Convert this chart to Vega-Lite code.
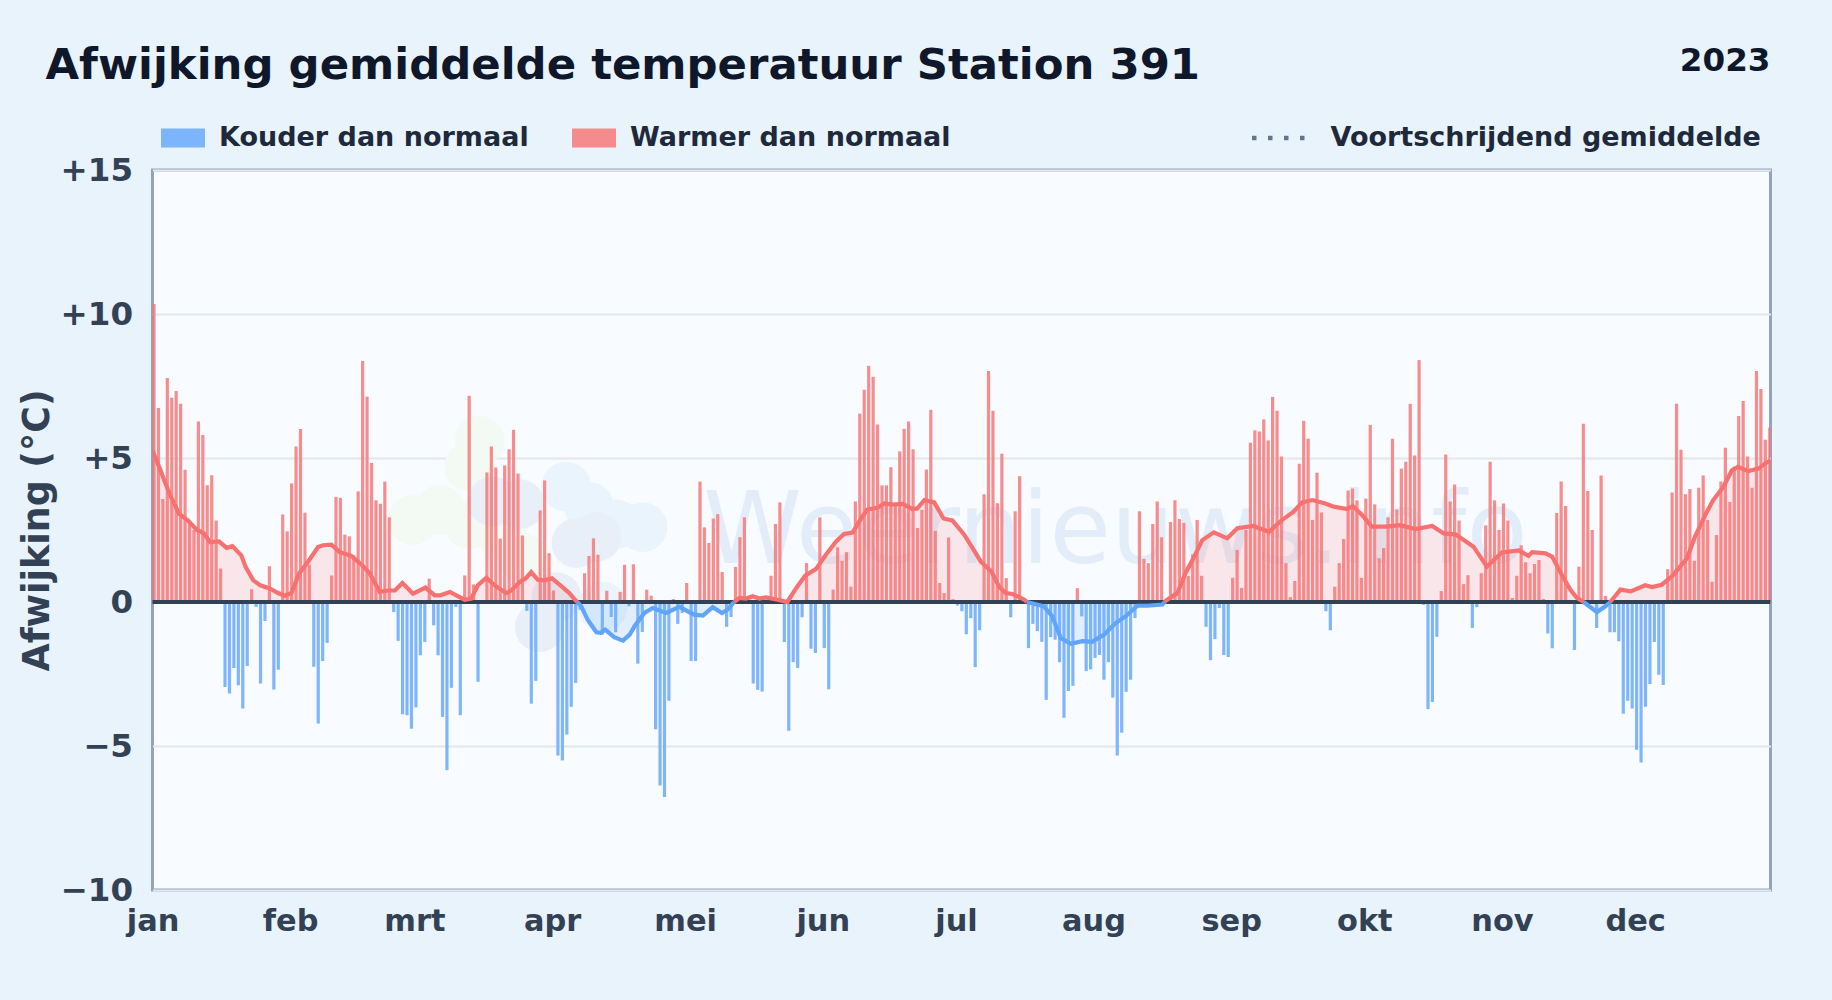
{"$schema":"https://vega.github.io/schema/vega-lite/v6.json","autosize":{"type":"none"},"width":1618,"height":720,"padding":{"left":152.5,"top":170,"right":61.5,"bottom":110},"background":"#e8f3fc","title":{"text":"Afwijking gemiddelde temperatuur Station 391","anchor":"start","frame":"group","dx":-107,"offset":-44,"font":"DejaVu Sans","fontSize":43.4,"fontWeight":"bold","color":"#0f172a"},"config":{"view":{"fill":"#f8fbff","stroke":"#94a3b8","strokeWidth":3},"font":"DejaVu Sans"},"datasets":{"dagen":[{"dag":0,"afw":10.35},{"dag":1,"afw":6.74},{"dag":2,"afw":3.58},{"dag":3,"afw":7.78},{"dag":4,"afw":7.09},{"dag":5,"afw":7.33},{"dag":6,"afw":6.88},{"dag":7,"afw":4.59},{"dag":8,"afw":2.7},{"dag":9,"afw":2.5},{"dag":10,"afw":6.27},{"dag":11,"afw":5.8},{"dag":12,"afw":4.05},{"dag":13,"afw":4.4},{"dag":14,"afw":2.83},{"dag":15,"afw":1.16},{"dag":16,"afw":-2.95},{"dag":17,"afw":-3.18},{"dag":18,"afw":-2.29},{"dag":19,"afw":-2.89},{"dag":20,"afw":-3.7},{"dag":21,"afw":-2.22},{"dag":22,"afw":0.44},{"dag":23,"afw":-0.17},{"dag":24,"afw":-2.83},{"dag":25,"afw":-0.66},{"dag":26,"afw":1.24},{"dag":27,"afw":-3.04},{"dag":28,"afw":-2.35},{"dag":29,"afw":3.04},{"dag":30,"afw":2.45},{"dag":31,"afw":4.12},{"dag":32,"afw":5.4},{"dag":33,"afw":6.01},{"dag":34,"afw":3.1},{"dag":35,"afw":1.3},{"dag":36,"afw":-2.25},{"dag":37,"afw":-4.22},{"dag":38,"afw":-2.05},{"dag":39,"afw":-1.42},{"dag":40,"afw":0.92},{"dag":41,"afw":3.65},{"dag":42,"afw":3.62},{"dag":43,"afw":2.34},{"dag":44,"afw":2.28},{"dag":45,"afw":1.62},{"dag":46,"afw":3.84},{"dag":47,"afw":8.37},{"dag":48,"afw":7.13},{"dag":49,"afw":4.83},{"dag":50,"afw":3.53},{"dag":51,"afw":3.41},{"dag":52,"afw":4.18},{"dag":53,"afw":2.94},{"dag":54,"afw":-0.35},{"dag":55,"afw":-1.35},{"dag":56,"afw":-3.9},{"dag":57,"afw":-3.93},{"dag":58,"afw":-4.4},{"dag":59,"afw":-3.66},{"dag":60,"afw":-1.85},{"dag":61,"afw":-1.39},{"dag":62,"afw":0.81},{"dag":63,"afw":-0.81},{"dag":64,"afw":-1.85},{"dag":65,"afw":-3.99},{"dag":66,"afw":-5.84},{"dag":67,"afw":-2.98},{"dag":68,"afw":-0.17},{"dag":69,"afw":-3.93},{"dag":70,"afw":0.92},{"dag":71,"afw":7.16},{"dag":72,"afw":0.61},{"dag":73,"afw":-2.77},{"dag":74,"afw":0},{"dag":75,"afw":4.5},{"dag":76,"afw":5.4},{"dag":77,"afw":4.67},{"dag":78,"afw":2.2},{"dag":79,"afw":4.74},{"dag":80,"afw":5.3},{"dag":81,"afw":5.98},{"dag":82,"afw":4.46},{"dag":83,"afw":2.31},{"dag":84,"afw":-0.31},{"dag":85,"afw":-3.53},{"dag":86,"afw":-2.74},{"dag":87,"afw":3.18},{"dag":88,"afw":4.22},{"dag":89,"afw":1.69},{"dag":90,"afw":0.4},{"dag":91,"afw":-5.33},{"dag":92,"afw":-5.5},{"dag":93,"afw":-4.6},{"dag":94,"afw":-3.64},{"dag":95,"afw":-2.81},{"dag":96,"afw":-0.27},{"dag":97,"afw":1.0},{"dag":98,"afw":1.6},{"dag":99,"afw":2.21},{"dag":100,"afw":1.64},{"dag":101,"afw":-1.13},{"dag":102,"afw":0.39},{"dag":103,"afw":-0.52},{"dag":104,"afw":-1.05},{"dag":105,"afw":0.35},{"dag":106,"afw":1.29},{"dag":107,"afw":-0.15},{"dag":108,"afw":1.31},{"dag":109,"afw":-2.14},{"dag":110,"afw":-1.04},{"dag":111,"afw":0.43},{"dag":112,"afw":0.22},{"dag":113,"afw":-4.42},{"dag":114,"afw":-6.37},{"dag":115,"afw":-6.77},{"dag":116,"afw":-3.43},{"dag":117,"afw":0.1},{"dag":118,"afw":-0.76},{"dag":119,"afw":-0.38},{"dag":120,"afw":0.66},{"dag":121,"afw":-2.05},{"dag":122,"afw":-2.05},{"dag":123,"afw":4.18},{"dag":124,"afw":2.59},{"dag":125,"afw":2.05},{"dag":126,"afw":2.9},{"dag":127,"afw":3.05},{"dag":128,"afw":1.04},{"dag":129,"afw":-0.86},{"dag":130,"afw":-0.52},{"dag":131,"afw":1.22},{"dag":132,"afw":2.25},{"dag":133,"afw":2.94},{"dag":134,"afw":0.1},{"dag":135,"afw":-2.83},{"dag":136,"afw":-3.05},{"dag":137,"afw":-3.11},{"dag":138,"afw":0.05},{"dag":139,"afw":0.91},{"dag":140,"afw":2.71},{"dag":141,"afw":3.46},{"dag":142,"afw":-1.39},{"dag":143,"afw":-4.47},{"dag":144,"afw":-2.09},{"dag":145,"afw":-2.29},{"dag":146,"afw":-0.53},{"dag":147,"afw":1.35},{"dag":148,"afw":-1.62},{"dag":149,"afw":-1.77},{"dag":150,"afw":2.94},{"dag":151,"afw":-1.6},{"dag":152,"afw":-3.03},{"dag":153,"afw":0.43},{"dag":154,"afw":1.9},{"dag":155,"afw":1.43},{"dag":156,"afw":1.73},{"dag":157,"afw":0.53},{"dag":158,"afw":3.49},{"dag":159,"afw":6.54},{"dag":160,"afw":7.37},{"dag":161,"afw":8.2},{"dag":162,"afw":7.82},{"dag":163,"afw":6.16},{"dag":164,"afw":4.05},{"dag":165,"afw":4.05},{"dag":166,"afw":4.68},{"dag":167,"afw":3.4},{"dag":168,"afw":5.23},{"dag":169,"afw":6.01},{"dag":170,"afw":6.27},{"dag":171,"afw":5.3},{"dag":172,"afw":2.57},{"dag":173,"afw":3.2},{"dag":174,"afw":4.6},{"dag":175,"afw":6.67},{"dag":176,"afw":2.47},{"dag":177,"afw":0.66},{"dag":178,"afw":0.31},{"dag":179,"afw":2.24},{"dag":180,"afw":0.1},{"dag":181,"afw":-0.12},{"dag":182,"afw":-0.32},{"dag":183,"afw":-1.12},{"dag":184,"afw":-0.56},{"dag":185,"afw":-2.26},{"dag":186,"afw":-0.98},{"dag":187,"afw":3.74},{"dag":188,"afw":8.02},{"dag":189,"afw":6.64},{"dag":190,"afw":3.43},{"dag":191,"afw":5.15},{"dag":192,"afw":0.83},{"dag":193,"afw":-0.53},{"dag":194,"afw":3.15},{"dag":195,"afw":4.37},{"dag":196,"afw":0},{"dag":197,"afw":-1.6},{"dag":198,"afw":-0.76},{"dag":199,"afw":-1.01},{"dag":200,"afw":-1.38},{"dag":201,"afw":-3.4},{"dag":202,"afw":-1.22},{"dag":203,"afw":-1.31},{"dag":204,"afw":-2.09},{"dag":205,"afw":-4.02},{"dag":206,"afw":-3.09},{"dag":207,"afw":-2.91},{"dag":208,"afw":0.48},{"dag":209,"afw":-0.5},{"dag":210,"afw":-2.4},{"dag":211,"afw":-2.34},{"dag":212,"afw":-1.94},{"dag":213,"afw":-1.84},{"dag":214,"afw":-2.7},{"dag":215,"afw":-2.09},{"dag":216,"afw":-3.32},{"dag":217,"afw":-5.33},{"dag":218,"afw":-4.54},{"dag":219,"afw":-3.12},{"dag":220,"afw":-2.7},{"dag":221,"afw":-0.56},{"dag":222,"afw":3.15},{"dag":223,"afw":1.5},{"dag":224,"afw":1.35},{"dag":225,"afw":2.71},{"dag":226,"afw":3.49},{"dag":227,"afw":2.25},{"dag":228,"afw":0},{"dag":229,"afw":2.78},{"dag":230,"afw":3.53},{"dag":231,"afw":2.88},{"dag":232,"afw":2.75},{"dag":233,"afw":0.9},{"dag":234,"afw":1.65},{"dag":235,"afw":2.85},{"dag":236,"afw":0.91},{"dag":237,"afw":-0.86},{"dag":238,"afw":-2.02},{"dag":239,"afw":-1.29},{"dag":240,"afw":-0.21},{"dag":241,"afw":-1.84},{"dag":242,"afw":-1.91},{"dag":243,"afw":0.84},{"dag":244,"afw":1.81},{"dag":245,"afw":0.49},{"dag":246,"afw":2.5},{"dag":247,"afw":5.53},{"dag":248,"afw":5.96},{"dag":249,"afw":5.92},{"dag":250,"afw":6.34},{"dag":251,"afw":5.61},{"dag":252,"afw":7.12},{"dag":253,"afw":6.64},{"dag":254,"afw":5.05},{"dag":255,"afw":1.35},{"dag":256,"afw":0.17},{"dag":257,"afw":0.73},{"dag":258,"afw":4.8},{"dag":259,"afw":6.29},{"dag":260,"afw":5.67},{"dag":261,"afw":2.85},{"dag":262,"afw":4.49},{"dag":263,"afw":3.11},{"dag":264,"afw":-0.32},{"dag":265,"afw":-0.98},{"dag":266,"afw":0.53},{"dag":267,"afw":1.35},{"dag":268,"afw":2.19},{"dag":269,"afw":3.87},{"dag":270,"afw":3.94},{"dag":271,"afw":3.53},{"dag":272,"afw":0.84},{"dag":273,"afw":3.59},{"dag":274,"afw":6.15},{"dag":275,"afw":3.39},{"dag":276,"afw":1.52},{"dag":277,"afw":1.87},{"dag":278,"afw":2.94},{"dag":279,"afw":5.67},{"dag":280,"afw":3.21},{"dag":281,"afw":4.63},{"dag":282,"afw":4.87},{"dag":283,"afw":6.88},{"dag":284,"afw":5.09},{"dag":285,"afw":8.4},{"dag":286,"afw":-0.1},{"dag":287,"afw":-3.72},{"dag":288,"afw":-3.47},{"dag":289,"afw":-1.21},{"dag":290,"afw":0.38},{"dag":291,"afw":5.12},{"dag":292,"afw":3.49},{"dag":293,"afw":4.08},{"dag":294,"afw":2.83},{"dag":295,"afw":0.62},{"dag":296,"afw":0.93},{"dag":297,"afw":-0.9},{"dag":298,"afw":-0.18},{"dag":299,"afw":1.0},{"dag":300,"afw":2.66},{"dag":301,"afw":4.87},{"dag":302,"afw":3.53},{"dag":303,"afw":2.5},{"dag":304,"afw":3.42},{"dag":305,"afw":2.83},{"dag":306,"afw":0.14},{"dag":307,"afw":0.91},{"dag":308,"afw":1.97},{"dag":309,"afw":1.38},{"dag":310,"afw":1.0},{"dag":311,"afw":1.32},{"dag":312,"afw":1.46},{"dag":313,"afw":0.1},{"dag":314,"afw":-1.09},{"dag":315,"afw":-1.61},{"dag":316,"afw":3.09},{"dag":317,"afw":4.18},{"dag":318,"afw":3.33},{"dag":319,"afw":0},{"dag":320,"afw":-1.67},{"dag":321,"afw":1.22},{"dag":322,"afw":6.19},{"dag":323,"afw":3.85},{"dag":324,"afw":2.5},{"dag":325,"afw":-0.9},{"dag":326,"afw":4.39},{"dag":327,"afw":0.21},{"dag":328,"afw":-1.05},{"dag":329,"afw":-1.05},{"dag":330,"afw":-1.36},{"dag":331,"afw":-3.88},{"dag":332,"afw":-3.43},{"dag":333,"afw":-3.7},{"dag":334,"afw":-5.13},{"dag":335,"afw":-5.57},{"dag":336,"afw":-3.64},{"dag":337,"afw":-2.85},{"dag":338,"afw":-1.39},{"dag":339,"afw":-2.53},{"dag":340,"afw":-2.88},{"dag":341,"afw":1.14},{"dag":342,"afw":3.8},{"dag":343,"afw":6.88},{"dag":344,"afw":5.29},{"dag":345,"afw":3.74},{"dag":346,"afw":3.92},{"dag":347,"afw":1.43},{"dag":348,"afw":3.97},{"dag":349,"afw":4.39},{"dag":350,"afw":2.85},{"dag":351,"afw":0.7},{"dag":352,"afw":2.33},{"dag":353,"afw":4.18},{"dag":354,"afw":5.36},{"dag":355,"afw":3.47},{"dag":356,"afw":4.7},{"dag":357,"afw":6.46},{"dag":358,"afw":6.98},{"dag":359,"afw":5.05},{"dag":360,"afw":3.97},{"dag":361,"afw":8.02},{"dag":362,"afw":7.4},{"dag":363,"afw":5.63},{"dag":364,"afw":6.05}],"warm":[{"dag":0,"gem":5.26,"p":1},{"dag":1.7,"gem":4.62,"p":1},{"dag":2.7,"gem":4.2,"p":1},{"dag":4,"gem":3.7,"p":1},{"dag":6,"gem":3.06,"p":1},{"dag":8,"gem":2.83,"p":1},{"dag":10,"gem":2.5,"p":1},{"dag":11.5,"gem":2.39,"p":1},{"dag":13,"gem":2.08,"p":1},{"dag":15,"gem":2.1,"p":1},{"dag":16.7,"gem":1.88,"p":1},{"dag":18,"gem":1.94,"p":1},{"dag":20,"gem":1.62,"p":1},{"dag":21,"gem":1.21,"p":1},{"dag":22.7,"gem":0.75,"p":1},{"dag":24.3,"gem":0.58,"p":1},{"dag":26.5,"gem":0.46,"p":1},{"dag":28.3,"gem":0.31,"p":1},{"dag":29.8,"gem":0.22,"p":1},{"dag":31.3,"gem":0.31,"p":1},{"dag":33,"gem":0.98,"p":1},{"dag":35,"gem":1.39,"p":1},{"dag":37.3,"gem":1.91,"p":1},{"dag":38.4,"gem":1.97,"p":1},{"dag":40.3,"gem":1.99,"p":1},{"dag":42.2,"gem":1.73,"p":1},{"dag":44.8,"gem":1.6,"p":1},{"dag":47.4,"gem":1.25,"p":1},{"dag":49,"gem":0.98,"p":1},{"dag":51.2,"gem":0.35,"p":1},{"dag":53,"gem":0.4,"p":1},{"dag":54.6,"gem":0.4,"p":1},{"dag":56.3,"gem":0.66,"p":1},{"dag":58.7,"gem":0.29,"p":1},{"dag":61.5,"gem":0.5,"p":1},{"dag":63.6,"gem":0.23,"p":1},{"dag":64.7,"gem":0.23,"p":1},{"dag":67,"gem":0.35,"p":1},{"dag":70.3,"gem":0.08,"p":1},{"dag":71.8,"gem":0.12,"p":1},{"dag":73.3,"gem":0.58,"p":1},{"dag":75.2,"gem":0.84,"p":1},{"dag":77.4,"gem":0.54,"p":1},{"dag":79.7,"gem":0.31,"p":1},{"dag":80.8,"gem":0.4,"p":1},{"dag":82.7,"gem":0.69,"p":1},{"dag":84.2,"gem":0.84,"p":1},{"dag":85.3,"gem":1.04,"p":1},{"dag":86.8,"gem":0.77,"p":1},{"dag":88.3,"gem":0.75,"p":1},{"dag":90,"gem":0.82,"p":1},{"dag":91.7,"gem":0.6,"p":1},{"dag":93.9,"gem":0.31,"p":1},{"dag":95.3,"gem":0.06,"p":1},{"dag":95.7,"gem":0,"p":1},{"dag":131,"gem":0,"p":2},{"dag":132.2,"gem":0.14,"p":2},{"dag":133.7,"gem":0.12,"p":2},{"dag":135.2,"gem":0.2,"p":2},{"dag":136.7,"gem":0.12,"p":2},{"dag":138.2,"gem":0.16,"p":2},{"dag":140.8,"gem":0.08,"p":2},{"dag":143,"gem":0,"p":2},{"dag":145,"gem":0.48,"p":2},{"dag":147,"gem":0.91,"p":2},{"dag":149.5,"gem":1.15,"p":2},{"dag":151.7,"gem":1.64,"p":2},{"dag":154,"gem":2.1,"p":2},{"dag":155.8,"gem":2.36,"p":2},{"dag":157.7,"gem":2.41,"p":2},{"dag":159.2,"gem":2.79,"p":2},{"dag":161,"gem":3.21,"p":2},{"dag":163.3,"gem":3.27,"p":2},{"dag":164.9,"gem":3.42,"p":2},{"dag":166.7,"gem":3.38,"p":2},{"dag":169,"gem":3.41,"p":2},{"dag":171.2,"gem":3.23,"p":2},{"dag":172.3,"gem":3.25,"p":2},{"dag":173.9,"gem":3.54,"p":2},{"dag":176.1,"gem":3.46,"p":2},{"dag":178.2,"gem":2.9,"p":2},{"dag":180.2,"gem":2.83,"p":2},{"dag":182.9,"gem":2.33,"p":2},{"dag":185,"gem":1.81,"p":2},{"dag":186.6,"gem":1.4,"p":2},{"dag":189,"gem":1.06,"p":2},{"dag":190.7,"gem":0.54,"p":2},{"dag":192.2,"gem":0.31,"p":2},{"dag":193.7,"gem":0.28,"p":2},{"dag":196.4,"gem":0.08,"p":2},{"dag":197,"gem":0,"p":2},{"dag":228,"gem":0,"p":3},{"dag":228.6,"gem":0.08,"p":3},{"dag":230.9,"gem":0.31,"p":3},{"dag":232.7,"gem":1.0,"p":3},{"dag":234.7,"gem":1.58,"p":3},{"dag":236.5,"gem":2.15,"p":3},{"dag":239.1,"gem":2.42,"p":3},{"dag":242.1,"gem":2.21,"p":3},{"dag":244.4,"gem":2.56,"p":3},{"dag":248,"gem":2.64,"p":3},{"dag":251.5,"gem":2.44,"p":3},{"dag":254.5,"gem":2.85,"p":3},{"dag":257,"gem":3.13,"p":3},{"dag":259,"gem":3.46,"p":3},{"dag":261.3,"gem":3.54,"p":3},{"dag":264.2,"gem":3.42,"p":3},{"dag":266.1,"gem":3.31,"p":3},{"dag":269.1,"gem":3.23,"p":3},{"dag":270.4,"gem":3.33,"p":3},{"dag":272.5,"gem":3.02,"p":3},{"dag":274.7,"gem":2.62,"p":3},{"dag":277.7,"gem":2.62,"p":3},{"dag":281.1,"gem":2.67,"p":3},{"dag":284.5,"gem":2.53,"p":3},{"dag":288.3,"gem":2.64,"p":3},{"dag":290.9,"gem":2.38,"p":3},{"dag":293.5,"gem":2.35,"p":3},{"dag":295.4,"gem":2.15,"p":3},{"dag":297.6,"gem":1.92,"p":3},{"dag":300.6,"gem":1.23,"p":3},{"dag":304,"gem":1.72,"p":3},{"dag":307.8,"gem":1.79,"p":3},{"dag":310,"gem":1.6,"p":3},{"dag":310.8,"gem":1.73,"p":3},{"dag":313.8,"gem":1.69,"p":3},{"dag":315.3,"gem":1.58,"p":3},{"dag":317.5,"gem":0.94,"p":3},{"dag":319.4,"gem":0.43,"p":3},{"dag":320.9,"gem":0.14,"p":3},{"dag":322.4,"gem":0,"p":3},{"dag":328.4,"gem":0,"p":4},{"dag":330.7,"gem":0.43,"p":4},{"dag":333,"gem":0.37,"p":4},{"dag":336.3,"gem":0.58,"p":4},{"dag":337.8,"gem":0.52,"p":4},{"dag":340,"gem":0.6,"p":4},{"dag":342.3,"gem":0.89,"p":4},{"dag":345.7,"gem":1.52,"p":4},{"dag":347.5,"gem":2.27,"p":4},{"dag":349.8,"gem":3.02,"p":4},{"dag":351.6,"gem":3.54,"p":4},{"dag":353.9,"gem":4.0,"p":4},{"dag":355.8,"gem":4.57,"p":4},{"dag":357.2,"gem":4.69,"p":4},{"dag":359.5,"gem":4.55,"p":4},{"dag":361.8,"gem":4.63,"p":4},{"dag":363.6,"gem":4.84,"p":4},{"dag":364.5,"gem":4.9,"p":4}],"koud":[{"dag":95.7,"gem":0,"p":1},{"dag":96.6,"gem":-0.15,"p":1},{"dag":98,"gem":-0.61,"p":1},{"dag":100,"gem":-1.05,"p":1},{"dag":101,"gem":-1.07,"p":1},{"dag":102,"gem":-0.96,"p":1},{"dag":104,"gem":-1.22,"p":1},{"dag":106,"gem":-1.34,"p":1},{"dag":107.5,"gem":-1.13,"p":1},{"dag":108.6,"gem":-0.84,"p":1},{"dag":110.8,"gem":-0.38,"p":1},{"dag":112.7,"gem":-0.21,"p":1},{"dag":115.7,"gem":-0.38,"p":1},{"dag":118.7,"gem":-0.17,"p":1},{"dag":122,"gem":-0.44,"p":1},{"dag":124,"gem":-0.47,"p":1},{"dag":126.2,"gem":-0.18,"p":1},{"dag":128.3,"gem":-0.38,"p":1},{"dag":129.6,"gem":-0.26,"p":1},{"dag":131,"gem":0,"p":1},{"dag":197,"gem":0,"p":2},{"dag":200.8,"gem":-0.15,"p":2},{"dag":202.7,"gem":-0.5,"p":2},{"dag":204.6,"gem":-1.25,"p":2},{"dag":206.9,"gem":-1.45,"p":2},{"dag":209.5,"gem":-1.36,"p":2},{"dag":211.7,"gem":-1.38,"p":2},{"dag":214.4,"gem":-1.13,"p":2},{"dag":217,"gem":-0.73,"p":2},{"dag":219.2,"gem":-0.5,"p":2},{"dag":221.9,"gem":-0.13,"p":2},{"dag":224.1,"gem":-0.13,"p":2},{"dag":227.5,"gem":-0.09,"p":2},{"dag":228,"gem":0,"p":2},{"dag":322.4,"gem":0,"p":3},{"dag":325.4,"gem":-0.35,"p":3},{"dag":327.3,"gem":-0.15,"p":3},{"dag":328.4,"gem":0,"p":3}],"logoGroen":[{"dag":73.7,"v":5.6},{"dag":71.4,"v":4.7},{"dag":58.6,"v":2.85},{"dag":64.7,"v":3.2},{"dag":71.4,"v":2.7},{"dag":83.4,"v":1.56},{"dag":78.9,"v":2.26}],"logoBlauw":[{"dag":93.2,"v":4.0},{"dag":98.4,"v":3.3},{"dag":110.4,"v":2.6},{"dag":104.4,"v":2.7},{"dag":101.4,"v":-0.17}],"logoLei":[{"dag":76.6,"v":3.5},{"dag":82.7,"v":3.4},{"dag":95.5,"v":2.05},{"dag":100,"v":2.26},{"dag":87.2,"v":-0.87},{"dag":91,"v":0.17}]},"encoding":{"x":{"field":"dag","type":"quantitative","scale":{"domain":[0,364.5],"nice":false,"zero":false,"padding":0},"axis":{"title":null,"values":[0,31,59,90,120,151,181,212,243,273,304,334],"labelExpr":"['jan','feb','mrt','apr','mei','jun','jul','aug','sep','okt','nov','dec'][indexof([0,31,59,90,120,151,181,212,243,273,304,334],datum.value)]","labelFont":"DejaVu Sans","labelFontSize":30.4,"labelFontWeight":"bold","labelColor":"#334155","labelPadding":16,"labelFlush":false,"labelOverlap":false,"ticks":false,"domain":false,"grid":false}},"y":{"type":"quantitative","scale":{"domain":[-10,15],"nice":false},"axis":{"title":"Afwijking (°C)","values":[-10,-5,0,5,10,15],"labelExpr":"datum.value>0?'+'+datum.value:(datum.value<0?'−'+abs(datum.value):'0')","labelFont":"DejaVu Sans","labelFontSize":32.5,"labelFontWeight":"bold","labelColor":"#334155","labelPadding":20,"titleFont":"DejaVu Sans","titleFontSize":36.4,"titleFontWeight":"bold","titleColor":"#334155","titlePadding":4,"ticks":false,"domain":false,"grid":true,"gridColor":"#e2e8f0","gridWidth":2}}},"layer":[{"data":{"name":"logoGroen"},"mark":{"type":"point","filled":true,"size":2463,"color":"#f3f9f3","opacity":1},"encoding":{"y":{"field":"v"}}},{"data":{"name":"logoBlauw"},"mark":{"type":"point","filled":true,"size":2463,"color":"#e9f4fd","opacity":1},"encoding":{"y":{"field":"v"}}},{"data":{"name":"logoLei"},"mark":{"type":"point","filled":true,"size":2463,"color":"#e8eff8","opacity":1},"encoding":{"y":{"field":"v"}}},{"data":{"values":[{"merk":"Weernieuws.info","dag":124,"v":1.35}]},"mark":{"type":"text","align":"left","baseline":"alphabetic","font":"DejaVu Sans","fontSize":100,"color":"#e3edf9"},"encoding":{"y":{"field":"v"},"text":{"field":"merk"}}},{"data":{"name":"warm"},"mark":{"type":"area","color":"#f87171","opacity":0.15},"encoding":{"y":{"field":"gem"},"y2":{"datum":0},"detail":{"field":"p"}}},{"data":{"name":"koud"},"mark":{"type":"area","color":"#60a5fa","opacity":0.15},"encoding":{"y":{"field":"gem"},"y2":{"datum":0},"detail":{"field":"p"}}},{"data":{"name":"dagen"},"transform":[{"calculate":"datum.afw<0?'Kouder dan normaal':'Warmer dan normaal'","as":"soort"}],"mark":{"type":"bar","size":3.2,"opacity":0.8,"clip":true,"xOffset":1.5},"encoding":{"y":{"field":"afw"},"color":{"field":"soort","type":"nominal","scale":{"domain":["Kouder dan normaal","Warmer dan normaal"],"range":["#60a5fa","#f87171"]},"legend":{"title":null,"orient":"none","direction":"horizontal","legendX":8.5,"legendY":-54,"symbolType":"M-1,-0.43H1V0.43H-1Z","symbolSize":1936,"symbolOpacity":0.8,"symbolStrokeWidth":0,"labelFont":"DejaVu Sans","labelFontSize":27,"labelFontWeight":"bold","labelColor":"#1e293b","labelOffset":14,"columnPadding":43,"labelLimit":500}}}},{"data":{"values":[{"dag":0,"eind":364.5,"nul":0}]},"mark":{"type":"rule","color":"#334155","strokeWidth":4},"encoding":{"x2":{"field":"eind"},"y":{"field":"nul"}}},{"data":{"name":"warm"},"mark":{"type":"line","color":"#f87171","strokeWidth":4.2,"clip":true},"encoding":{"y":{"field":"gem"},"detail":{"field":"p"}}},{"data":{"name":"koud"},"mark":{"type":"line","color":"#60a5fa","strokeWidth":4.2},"encoding":{"y":{"field":"gem"},"detail":{"field":"p"}}},{"data":{"values":[{"dag":0,"gem":0,"naam":"Voortschrijdend gemiddelde"}]},"mark":{"type":"line"},"encoding":{"y":{"field":"gem"},"strokeDash":{"field":"naam","type":"nominal","scale":{"range":[[4.5,11.5]]},"legend":{"title":null,"orient":"none","legendX":1097,"legendY":-62,"symbolType":"stroke","symbolSize":3025,"symbolStrokeColor":"#64748b","symbolStrokeWidth":4.5,"labelFont":"DejaVu Sans","labelFontSize":27,"labelFontWeight":"bold","labelColor":"#1e293b","labelOffset":21,"labelLimit":500}}}},{"data":{"values":[{"jaar":"2023","dag":364.5,"v":18.8}]},"mark":{"type":"text","align":"right","baseline":"middle","font":"DejaVu Sans","fontSize":32.6,"fontWeight":"bold","color":"#0f172a"},"encoding":{"y":{"field":"v"},"text":{"field":"jaar"}}}]}
